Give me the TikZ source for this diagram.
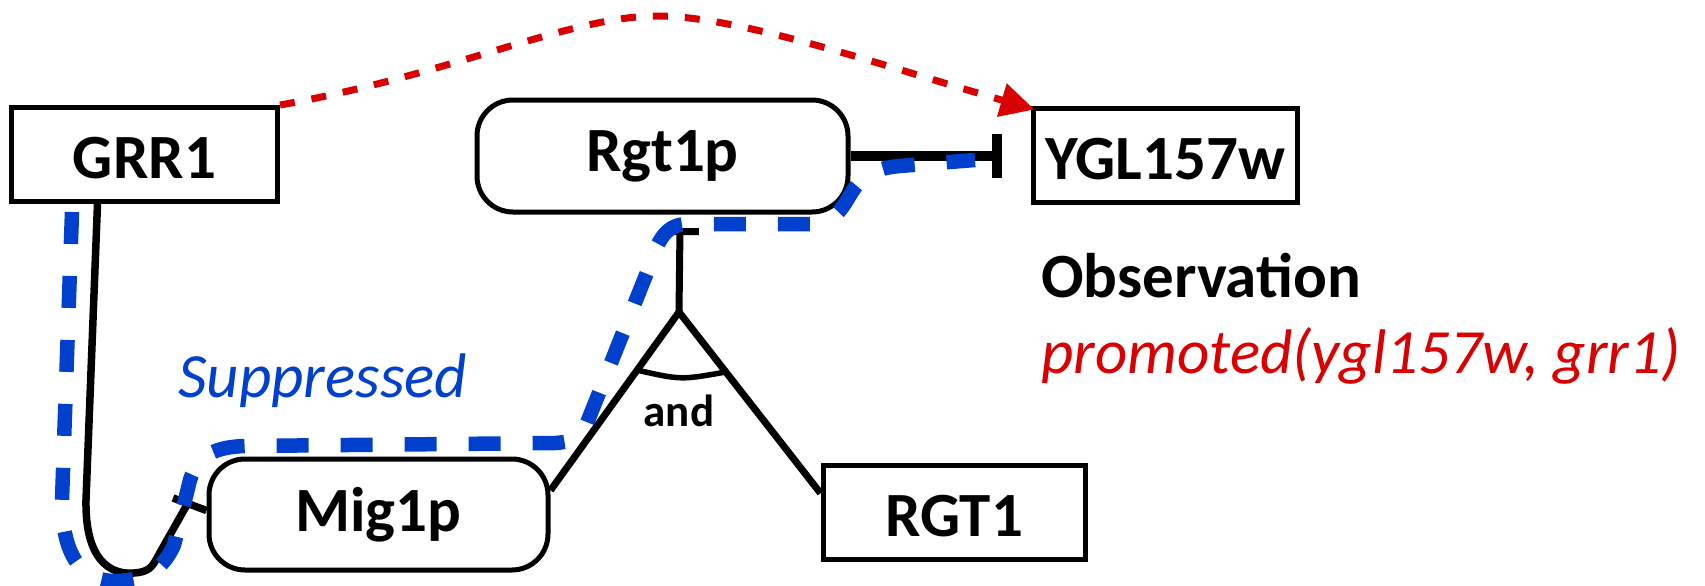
\documentclass[tikz,border=0pt]{standalone}
\usepackage{fontspec}
\setmainfont{Carlito}
\usetikzlibrary{arrows.meta,calc}
\definecolor{pathblue}{RGB}{0,64,204}
\definecolor{obsred}{RGB}{216,0,0}
\begin{document}
\begin{tikzpicture}[x=1pt,y=-1pt,
  bigfont/.style={font=\fontsize{63}{70}\selectfont#1},
  gene/.style={draw, line width=5pt, inner sep=0pt, bigfont=\bfseries,
    text height=48.5pt, text depth=0pt},
  protein/.style={draw, line width=5pt, rounded corners=36pt, inner sep=0pt,
    bigfont=\bfseries},
  link/.style={line width=7pt},
  promote/.style={draw=obsred, line width=7pt, dash pattern=on 15pt off 17pt,
    -{Triangle[length=34pt,width=33pt]}},
  highlight/.style={draw=pathblue, line width=14.5pt, dash pattern=on 32pt off 32pt},
  label/.style={anchor=base west, inner sep=0pt}
]
\useasboundingbox (0,0) rectangle (1705,586);

% genes and proteins
\node[gene, minimum width=266pt, minimum height=94pt] (GRR1) at (144.5,154.5) {GRR1};
\node[protein, minimum width=371pt, minimum height=112pt] (Rgt1p) at (662.5,156) {Rgt1p};
\node[gene, minimum width=264pt, minimum height=94pt] (YGL) at (1165,155) {YGL157w};
\node[protein, minimum width=339pt, minimum height=111pt] (Mig1p) at (378.5,514.5) {Mig1p};
\node[gene, minimum width=262pt, minimum height=94pt] (RGT1) at (954,512) {RGT1};

% junction points
\coordinate (apex) at (679,312);
\coordinate (tbar) at (680,228);
\coordinate (ybar) at (1002,156);

% Rgt1p represses YGL157w
\draw[line width=10pt, -{Bar[width=44pt]}] (Rgt1p.east) -- (ybar);

% Mig1p and RGT1 together act on Rgt1p
\draw[link, -{Bar[width=38pt]}] (apex) -- (tbar);
\draw[link] (Mig1p.8) -- (apex) -- (RGT1.172);
\draw[line width=5.5pt] ($(apex)!0.326!(Mig1p.8)$) .. controls (681,380) .. ($(apex)!0.331!(RGT1.172)$);
\node[font=\fontsize{45}{50}\selectfont\bfseries] (andlbl) at (679,411) {and};

% GRR1 to Mig1p
\draw[line width=7.5pt, line join=round]
  ($(GRR1.south)+(-47,0)$) -- (86,500)
  .. controls (85,560) and (110,575) .. (134,573)
  .. controls (148,572) and (152,568) .. (158,556) -- (188,503)
  (173,498) -- ($(Mig1p.west)+(0,-4)$);

% suppressed pathway
\draw[highlight]
  (72,212) -- (62,500)
  .. controls (62,560) and (85,582) .. (117,581)
  .. controls (150,580) and (165,565) .. (174,545) -- (190,480)
  .. controls (198,455) and (215,447) .. (245,446) -- (555,443)
  .. controls (572,442) and (580,438) .. (585,428) -- (650,265)
  .. controls (658,240) and (666,224) .. (688,224) -- (810,224)
  .. controls (835,224) and (842,208) .. (852,192)
  .. controls (862,176) and (875,168) .. (900,166) -- (975,160);
\node[label, bigfont=\itshape, text=pathblue] (supp) at (178,397) {Suppressed};

% observed effect of GRR1 on YGL157w
\draw[promote] (GRR1.north east)
  .. controls (450,75) and (570,16) .. (657,16)
  .. controls (740,16) and (880,65) .. ($(YGL.north west)+(4,4)$);

\node[label, bigfont=\bfseries] (obs) at (1041,297) {Observation};
\node[label, bigfont=\itshape, text=obsred] (obsfact) at (1041,373) {promoted(ygl157w, grr1)};
\end{tikzpicture}
\end{document}
